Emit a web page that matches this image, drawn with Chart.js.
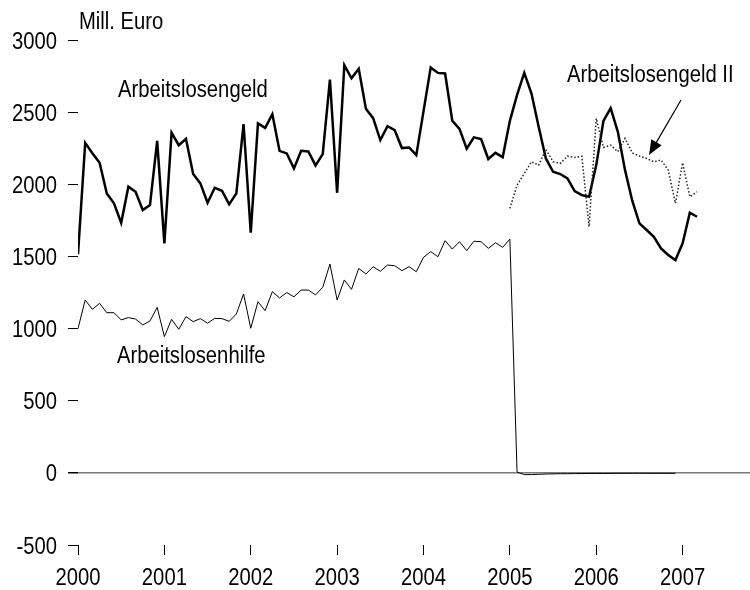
<!DOCTYPE html>
<html>
<head>
<meta charset="utf-8">
<script src="https://cdn.jsdelivr.net/npm/chart.js@4/dist/chart.umd.min.js"></script>
<style>
  html, body { margin: 0; padding: 0; background: #fff; }
  #wrap { width: 750px; height: 590px; }
</style>
</head>
<body>
<div id="wrap"><canvas id="chart" width="750" height="590"></canvas></div>
<script>
const FONT = "'Liberation Sans', Arial, sans-serif";
const FONT_SIZE = 23;
const SQUEEZE = 0.88; // the original type is a condensed Arial

// monthly values in Mill. Euro, first month = Jan 2000
const startYear = 2000;
const yearTicks = [2000, 2001, 2002, 2003, 2004, 2005, 2006, 2007];

const arbeitslosengeld = [
  1515, 2287, 2215, 2149, 1937, 1868, 1733, 1983, 1948, 1821, 1856, 2301,
  1591, 2357, 2271, 2315, 2071, 2006, 1872, 1976, 1955, 1861, 1937, 2417,
  1664, 2422, 2391, 2486, 2232, 2214, 2110, 2232, 2228, 2131, 2209, 2726,
  1941, 2825, 2735, 2800, 2523, 2458, 2306, 2403, 2375, 2251, 2255, 2202,
  2505, 2810, 2772, 2768, 2440, 2384, 2246, 2325, 2313, 2175, 2218, 2188,
  2440, 2620, 2772, 2629, 2398, 2179, 2087, 2071, 2041, 1953, 1925, 1913,
  2133, 2440, 2528, 2364, 2098, 1886, 1729, 1683, 1636, 1556, 1510, 1475,
  1591, 1803, 1775
];

const arbeitslosenhilfe = [
  1000, 1198, 1133, 1175, 1110, 1110, 1060, 1076, 1066, 1025, 1053, 1147,
  944, 1064, 995, 1083, 1048, 1069, 1037, 1071, 1069, 1050, 1101, 1240,
  1002, 1186, 1124, 1256, 1212, 1250, 1220, 1267, 1267, 1233, 1286, 1447,
  1198, 1337, 1272, 1417, 1378, 1429, 1397, 1440, 1436, 1401, 1429, 1394,
  1494, 1533, 1498, 1609, 1551, 1602, 1540, 1605, 1602, 1556, 1595, 1563,
  1620, 5, -12, -12, -10, -8, -7, -6, -6, -5, -5, -4,
  -4, -4, -4, -3, -3, -3, -3, -3, -3, -3, -3, -3
];

// Arbeitslosengeld II starts Jan 2005 (month index 60)
const alg2StartMonth = 60;
const arbeitslosengeld2 = [
  1833, 1994, 2075, 2156, 2133, 2241, 2156, 2145, 2195, 2186, 2195, 1706,
  2456, 2255, 2271, 2225, 2318, 2218, 2195, 2179, 2156, 2168, 2098, 1868,
  2149, 1913, 1948
];

function toPoints(values, offset) {
  return values.map((v, i) => ({ x: startYear + (offset + i) / 12, y: v }));
}

function squeezedText(c, text, x, y, align) {
  c.save();
  c.translate(x, y);
  c.scale(SQUEEZE, 1);
  c.textAlign = align;
  c.textBaseline = 'alphabetic';
  c.fillText(text, 0, 0);
  c.restore();
}

// tick labels, texts and arrow, drawn in condensed type
const annotations = {
  id: 'annotations',
  afterDraw(chart) {
    const c = chart.ctx;
    const xs = chart.scales.x, ys = chart.scales.y;
    c.save();
    c.fillStyle = '#000';
    c.font = FONT_SIZE + 'px ' + FONT;

    ys.ticks.forEach(t => {
      squeezedText(c, String(t.value), 57, ys.getPixelForValue(t.value) + 8.5, 'right');
    });
    xs.ticks.forEach(t => {
      squeezedText(c, String(t.value), xs.getPixelForValue(t.value), 585, 'center');
    });

    squeezedText(c, 'Mill. Euro', 79, 29, 'left');
    squeezedText(c, 'Arbeitslosengeld', 118, 97, 'left');
    squeezedText(c, 'Arbeitslosenhilfe', 117, 363, 'left');
    squeezedText(c, 'Arbeitslosengeld II', 567, 82, 'left');

    // arrow pointing at the dotted line
    const x1 = 681, y1 = 100, x2 = 649, y2 = 155;
    const ang = Math.atan2(y2 - y1, x2 - x1);
    c.strokeStyle = '#000';
    c.lineWidth = 1.2;
    c.beginPath();
    c.moveTo(x1, y1);
    c.lineTo(x2 - Math.cos(ang) * 10, y2 - Math.sin(ang) * 10);
    c.stroke();
    c.beginPath();
    c.moveTo(x2, y2);
    c.lineTo(x2 - 16 * Math.cos(ang - 0.38), y2 - 16 * Math.sin(ang - 0.38));
    c.lineTo(x2 - 16 * Math.cos(ang + 0.38), y2 - 16 * Math.sin(ang + 0.38));
    c.closePath();
    c.fill();
    c.restore();
  }
};

const ctx = document.getElementById('chart');

new Chart(ctx, {
  type: 'line',
  data: {
    datasets: [
      {
        label: 'Arbeitslosenhilfe',
        data: toPoints(arbeitslosenhilfe, 0),
        borderColor: '#000',
        borderWidth: 1,
        pointRadius: 0,
        tension: 0
      },
      {
        label: 'Arbeitslosengeld II',
        data: toPoints(arbeitslosengeld2, alg2StartMonth),
        borderColor: '#222',
        borderWidth: 1.5,
        borderDash: [1.5, 2],
        pointRadius: 0,
        tension: 0
      },
      {
        label: 'Arbeitslosengeld',
        data: toPoints(arbeitslosengeld, 0),
        borderColor: '#000',
        borderWidth: 2.5,
        pointRadius: 0,
        tension: 0
      }
    ]
  },
  options: {
    responsive: false,
    animation: false,
    layout: { padding: { top: 40, right: 0, left: 0, bottom: 0 } },
    plugins: {
      legend: { display: false },
      tooltip: { enabled: false }
    },
    scales: {
      x: {
        type: 'linear',
        min: 2000,
        max: 2007.78,
        afterFit: s => { s.height = 45; },
        afterBuildTicks: s => { s.ticks = yearTicks.map(v => ({ value: v })); },
        border: { display: false },
        grid: { drawOnChartArea: false, tickLength: 10, tickColor: '#000', tickWidth: 1 },
        ticks: { display: false }
      },
      y: {
        min: -500,
        max: 3000,
        afterFit: s => { s.width = 78; },
        border: { display: false },
        grid: {
          color: c => (c.tick && c.tick.value === 0) ? '#7a7a7a' : 'rgba(0,0,0,0)',
          lineWidth: c => (c.tick && c.tick.value === 0) ? 1.5 : 1,
          tickColor: '#000',
          tickLength: 10
        },
        ticks: { display: false, stepSize: 500 }
      }
    }
  },
  plugins: [annotations]
});
</script>
</body>
</html>
